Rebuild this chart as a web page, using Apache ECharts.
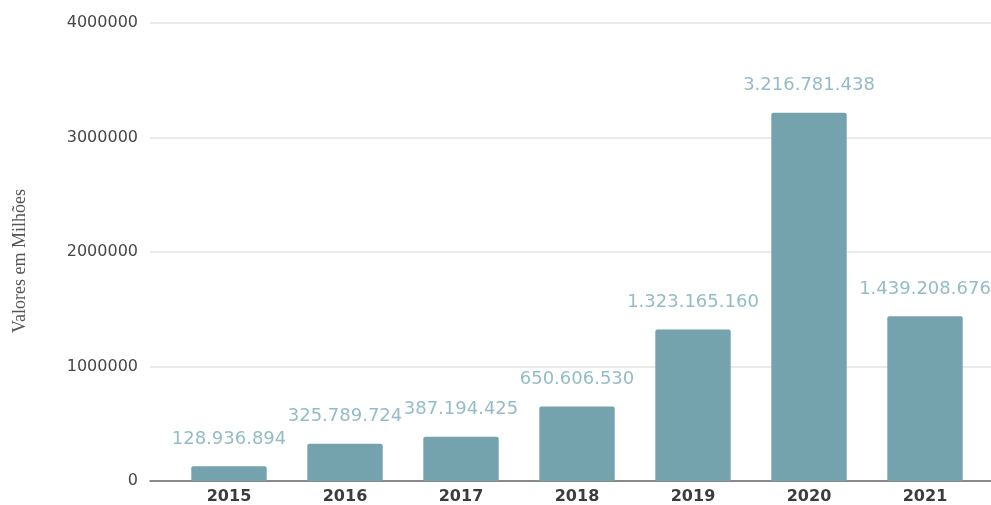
<!DOCTYPE html>
<html>
<head>
<meta charset="utf-8">
<script src="https://cdn.jsdelivr.net/npm/echarts@6/dist/echarts.min.js"></script>
<style>
  html, body { margin: 0; padding: 0; background: #ffffff; }
  #chart { width: 991px; height: 505px; }
</style>
</head>
<body>
<div id="chart"></div>
<script>
// Annual totals (R$), shown on the axis in thousands
const years = ['2015', '2016', '2017', '2018', '2019', '2020', '2021'];
const totals = [128936894, 325789724, 387194425, 650606530, 1323165160, 3216781438, 1439208676];
const axisMax = 4000000000;
const axisStep = 1000000000;

function dotted(n) {
  return String(Math.round(n)).replace(/\B(?=(\d{3})+(?!\d))/g, '.');
}

const chart = echarts.init(document.getElementById('chart'), null, { renderer: 'canvas' });

chart.setOption({
  backgroundColor: '#ffffff',
  animation: false,
  grid: [
    // frame: value axis, grid lines and baseline
    { left: 150, right: 0, top: 23, bottom: 24 },
    // bars
    { left: 171, right: 8, top: 23, bottom: 24 }
  ],
  xAxis: [
    {
      gridIndex: 0, type: 'category', data: [''],
      axisLine: { show: true, lineStyle: { color: '#6b6b6b', width: 1.5 } },
      axisTick: { show: false }, axisLabel: { show: false }
    },
    {
      gridIndex: 1, type: 'category', data: years,
      axisLine: { show: false }, axisTick: { show: false },
      axisLabel: {
        color: '#3c3c3c', fontFamily: 'DejaVu Sans', fontSize: 16, fontWeight: 'bold', margin: 8
      }
    }
  ],
  yAxis: [
    {
      gridIndex: 0, type: 'value', min: 0, max: axisMax, interval: axisStep,
      name: 'Valores em Milhões', nameLocation: 'middle', nameGap: 121, nameRotate: 90,
      nameTextStyle: { color: '#555555', fontFamily: 'Liberation Serif', fontSize: 18, padding: [0, 18, 0, 0] },
      axisLine: { show: false }, axisTick: { show: false },
      axisLabel: {
        color: '#474747', fontFamily: 'DejaVu Sans', fontSize: 16, margin: 12,
        formatter: v => String(v / 1000)
      },
      splitLine: { lineStyle: { color: '#e3e3e3', width: 1.5 } }
    },
    {
      gridIndex: 1, type: 'value', min: 0, max: axisMax, interval: axisStep,
      show: false, splitLine: { show: false }
    }
  ],
  series: [
    {
      type: 'bar', xAxisIndex: 1, yAxisIndex: 1,
      data: totals,
      barCategoryGap: '35%',
      itemStyle: { color: '#74a3ae', borderRadius: [2, 2, 0, 0] },
      label: {
        show: true, position: 'top', distance: 18,
        color: '#93bdc6', fontFamily: 'DejaVu Sans', fontSize: 18,
        formatter: p => dotted(p.value)
      }
    }
  ]
});
</script>
</body>
</html>
